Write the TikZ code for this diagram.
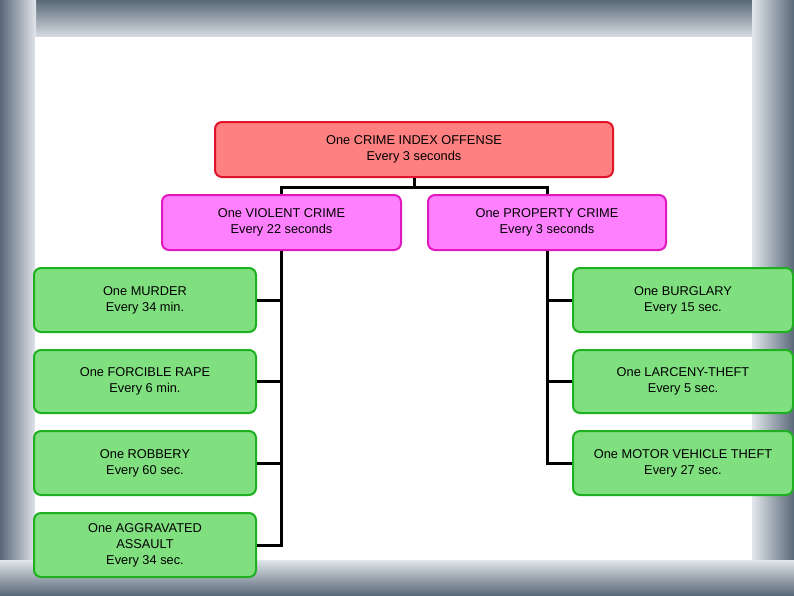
\documentclass[tikz,border=0pt]{standalone}
\usepackage{fontspec}
\setmainfont{Liberation Sans}
\begin{document}
\begin{tikzpicture}[x=1pt,y=-1pt,
  box/.style={rounded corners=7pt, line width=2pt, align=center, font=\fontsize{12.8}{16}\selectfont, inner sep=0pt, anchor=north west},
  redbox/.style={box, draw=crimred, fill=crimfill},
  pinkbox/.style={box, draw=pinkline, fill=pinkfill},
  greenbox/.style={box, draw=greenline, fill=greenfill},
  link/.style={line width=3pt, draw=black}]
\definecolor{crimred}{HTML}{E0142A}
\definecolor{crimfill}{HTML}{FF8080}
\definecolor{pinkline}{HTML}{E018C0}
\definecolor{pinkfill}{HTML}{FF80FF}
\definecolor{greenline}{HTML}{1EB020}
\definecolor{greenfill}{HTML}{80E080}
\definecolor{slate}{HTML}{9AAABB}
\definecolor{darkslate}{HTML}{5A6878}
\useasboundingbox (0,0) rectangle (794,595);
% decorative frame
\fill[slate!60] (0,0) rectangle (794,595);
\shade[top color=darkslate, bottom color=slate!30] (0,0) rectangle (794,40);
\shade[left color=darkslate, right color=slate!30] (0,0) rectangle (36,595);
\shade[right color=darkslate, left color=slate!30] (752,0) rectangle (794,595);
\shade[bottom color=darkslate, top color=slate!30] (0,560) rectangle (794,595);
\fill[white] (35,37) rectangle (752,560);
% boxes
\node[redbox, minimum width=398pt, minimum height=55pt] (top) at (214,121) {One CRIME INDEX OFFENSE\\Every 3 seconds};
\node[pinkbox, minimum width=239pt, minimum height=55pt] (vio) at (161,194) {One VIOLENT CRIME\\Every 22 seconds};
\node[pinkbox, minimum width=238pt, minimum height=55pt] (prop) at (427,194) {One PROPERTY CRIME\\Every 3 seconds};
\node[greenbox, minimum width=222pt, minimum height=64pt] (mur) at (33,267) {One MURDER\\Every 34 min.};
\node[greenbox, minimum width=222pt, minimum height=63pt] (rape) at (33,349) {One FORCIBLE RAPE\\Every 6 min.};
\node[greenbox, minimum width=222pt, minimum height=64pt] (rob) at (33,430) {One ROBBERY\\Every 60 sec.};
\node[greenbox, minimum width=222pt, minimum height=64pt] (agg) at (33,512) {One AGGRAVATED\\ASSAULT\\Every 34 sec.};
\node[greenbox, minimum width=220pt, minimum height=64pt] (burg) at (572,267) {One BURGLARY\\Every 15 sec.};
\node[greenbox, minimum width=220pt, minimum height=63pt] (lar) at (572,349) {One LARCENY-THEFT\\Every 5 sec.};
\node[greenbox, minimum width=220pt, minimum height=64pt] (mvt) at (572,430) {One MOTOR VEHICLE THEFT\\Every 27 sec.};
% connectors
\coordinate (hub) at ([yshift=-9pt]top.south);
\draw[link] (top.south) -- (hub);
\draw[link] (vio.north) |- (hub) -| (prop.north);
\draw[link] (vio.south) |- (agg.east);
\draw[link] (vio.south |- mur.east) -- (mur.east);
\draw[link] (vio.south |- rape.east) -- (rape.east);
\draw[link] (vio.south |- rob.east) -- (rob.east);
\draw[link] (prop.south) |- (mvt.west);
\draw[link] (prop.south |- burg.west) -- (burg.west);
\draw[link] (prop.south |- lar.west) -- (lar.west);
\end{tikzpicture}
\end{document}
